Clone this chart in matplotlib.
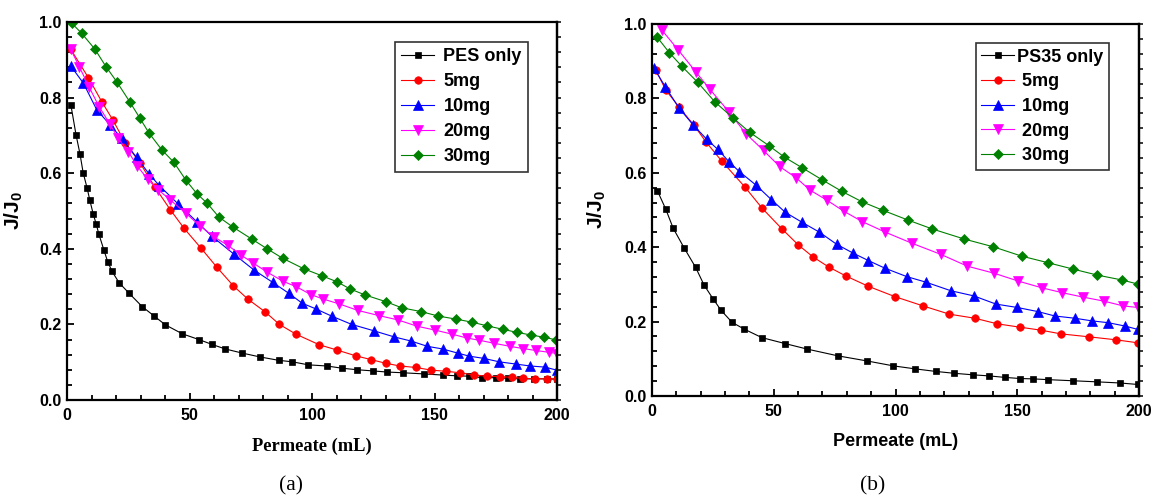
import matplotlib
matplotlib.use("Agg")
import matplotlib.pyplot as plt
from matplotlib.ticker import MultipleLocator

plt.rcParams["font.family"] = ["Liberation Sans", "DejaVu Sans"]
plt.rcParams["font.weight"] = "bold"
plt.rcParams["mathtext.fontset"] = "custom"
plt.rcParams["mathtext.rm"] = "Liberation Sans"
plt.rcParams["mathtext.bf"] = "Liberation Sans:bold"

# ---------------- Panel (a): PES ----------------
a_pes_x = [1.6, 3.7, 5.3, 6.6, 8.2, 9.3, 10.7, 11.9, 13.0, 15.0, 16.6, 18.4, 21.3, 25.4, 30.7,
           35.6, 40.1, 47.1, 53.8, 59.2, 64.6, 71.6, 78.7, 86.4, 92.0, 98.5, 106.0, 112.4,
           118.5, 124.8, 130.5, 137.3, 145.7, 153.3, 159.1, 164.1, 169.3, 175.0, 180.1,
           184.9, 190.6, 195.8, 200.0]
a_pes_y = [0.780, 0.701, 0.651, 0.601, 0.561, 0.529, 0.492, 0.466, 0.439, 0.398, 0.366, 0.340,
           0.310, 0.282, 0.247, 0.222, 0.199, 0.175, 0.160, 0.147, 0.135, 0.124, 0.114, 0.105,
           0.101, 0.093, 0.090, 0.084, 0.080, 0.077, 0.074, 0.072, 0.069, 0.066, 0.064, 0.063,
           0.059, 0.059, 0.057, 0.056, 0.056, 0.056, 0.055]

a_5_x = [1.5, 8.7, 14.2, 18.7, 23.7, 29.8, 35.9, 42.2, 47.8, 54.8, 61.2, 67.9, 73.8, 80.9,
         86.7, 93.5, 103.0, 110.3, 117.8, 124.0, 130.2, 135.9, 142.4, 148.7, 154.6, 160.4,
         166.1, 171.3, 176.7, 181.5, 186.2, 191.0, 195.8, 200.0]
a_5_y = [0.928, 0.853, 0.789, 0.741, 0.681, 0.627, 0.563, 0.503, 0.454, 0.401, 0.351, 0.302,
         0.267, 0.233, 0.200, 0.174, 0.146, 0.132, 0.117, 0.107, 0.097, 0.090, 0.086, 0.079,
         0.076, 0.072, 0.066, 0.063, 0.062, 0.060, 0.057, 0.056, 0.056, 0.056]

a_10_x = [1.5, 6.7, 12.2, 17.6, 22.3, 28.4, 33.5, 37.7, 45.3, 52.9, 59.0, 68.3, 76.3, 84.0,
          90.6, 96.0, 101.6, 108.0, 116.2, 125.3, 133.5, 140.4, 147.1, 153.3, 159.5, 164.2,
          170.2, 176.4, 183.3, 189.0, 195.1, 199.9]
a_10_y = [0.884, 0.838, 0.767, 0.728, 0.692, 0.642, 0.598, 0.567, 0.519, 0.472, 0.434, 0.385,
          0.344, 0.311, 0.282, 0.256, 0.241, 0.222, 0.200, 0.183, 0.167, 0.156, 0.142, 0.135,
          0.124, 0.116, 0.110, 0.101, 0.095, 0.090, 0.087, 0.079]

a_20_x = [1.5, 5.0, 9.1, 13.1, 17.6, 20.9, 25.0, 28.6, 32.9, 37.3, 42.2, 48.5, 54.4, 60.1,
          65.7, 70.9, 76.1, 81.5, 88.2, 93.5, 99.5, 104.6, 111.2, 118.7, 127.5, 135.0, 143.0,
          150.2, 157.3, 163.2, 168.3, 174.4, 180.8, 186.2, 191.4, 196.9, 200.0]
a_20_y = [0.928, 0.882, 0.827, 0.776, 0.729, 0.692, 0.657, 0.620, 0.584, 0.556, 0.529, 0.494,
          0.460, 0.431, 0.409, 0.384, 0.362, 0.339, 0.314, 0.300, 0.279, 0.267, 0.254, 0.237,
          0.223, 0.212, 0.195, 0.185, 0.174, 0.164, 0.158, 0.150, 0.142, 0.136, 0.131, 0.126,
          0.123]

a_30_x = [1.9, 6.0, 11.4, 16.0, 20.3, 25.7, 29.8, 33.5, 38.8, 43.6, 48.6, 53.0, 57.3, 62.0,
          67.6, 75.6, 81.7, 88.0, 96.7, 103.9, 110.1, 115.5, 121.6, 130.2, 136.6, 144.4, 151.6,
          158.8, 165.2, 171.6, 177.9, 183.6, 189.3, 194.8, 199.6]
a_30_y = [0.997, 0.970, 0.928, 0.881, 0.842, 0.788, 0.745, 0.706, 0.661, 0.629, 0.581, 0.546,
          0.520, 0.484, 0.458, 0.425, 0.400, 0.375, 0.347, 0.329, 0.313, 0.294, 0.278, 0.260,
          0.244, 0.234, 0.222, 0.214, 0.206, 0.196, 0.187, 0.179, 0.172, 0.166, 0.159]

# ---------------- Panel (b): PS35 ----------------
b_ps_x = [2.2, 5.6, 8.7, 13.2, 17.9, 21.4, 25.0, 28.4, 32.9, 37.8, 45.1, 54.6, 63.8, 76.3,
          88.5, 99.1, 108.0, 116.6, 124.2, 131.7, 138.5, 144.9, 151.1, 156.6, 162.5, 172.8,
          182.9, 192.2, 199.5]
b_ps_y = [0.552, 0.503, 0.451, 0.398, 0.346, 0.298, 0.262, 0.230, 0.198, 0.180, 0.157, 0.141,
          0.126, 0.108, 0.094, 0.081, 0.073, 0.066, 0.061, 0.057, 0.054, 0.050, 0.047, 0.046,
          0.044, 0.041, 0.038, 0.035, 0.031]

b_5_x = [1.6, 5.6, 11.2, 17.2, 22.3, 28.7, 38.0, 45.2, 53.4, 60.1, 66.1, 72.5, 79.5, 88.8,
         99.8, 111.4, 122.1, 132.6, 141.8, 151.1, 159.7, 167.9, 179.6, 190.6, 199.5]
b_5_y = [0.876, 0.823, 0.776, 0.728, 0.682, 0.631, 0.563, 0.505, 0.449, 0.406, 0.374, 0.347,
         0.323, 0.295, 0.267, 0.242, 0.220, 0.209, 0.194, 0.185, 0.177, 0.167, 0.159, 0.151,
         0.143]

b_10_x = [0.8, 5.5, 11.1, 17.0, 22.5, 27.0, 31.6, 35.9, 42.7, 49.0, 54.7, 61.6, 68.6, 75.8,
          82.6, 88.9, 95.5, 104.6, 112.5, 122.7, 132.2, 141.3, 150.0, 158.4, 165.5, 173.7,
          180.6, 187.4, 194.3, 199.5]
b_10_y = [0.881, 0.831, 0.774, 0.728, 0.690, 0.663, 0.630, 0.603, 0.567, 0.528, 0.494, 0.467,
          0.441, 0.408, 0.384, 0.364, 0.344, 0.321, 0.306, 0.283, 0.269, 0.247, 0.238, 0.227,
          0.215, 0.209, 0.202, 0.197, 0.188, 0.179]

b_20_x = [4.0, 10.8, 17.9, 23.7, 31.7, 38.6, 45.8, 52.4, 59.1, 65.0, 71.7, 78.7, 86.3, 95.6,
          106.6, 118.5, 129.5, 140.5, 150.4, 160.0, 168.3, 176.9, 185.6, 193.6, 199.5]
b_20_y = [0.984, 0.930, 0.872, 0.825, 0.763, 0.705, 0.660, 0.617, 0.587, 0.553, 0.527, 0.497,
          0.469, 0.441, 0.411, 0.381, 0.349, 0.330, 0.309, 0.291, 0.278, 0.266, 0.255, 0.242,
          0.238]

b_30_x = [2.2, 7.1, 12.3, 18.8, 25.9, 33.2, 40.1, 48.0, 54.4, 61.8, 69.9, 78.0, 86.3, 94.9,
          105.1, 115.1, 128.2, 140.2, 151.8, 162.8, 173.0, 182.9, 192.9, 199.5]
b_30_y = [0.964, 0.923, 0.886, 0.843, 0.790, 0.748, 0.709, 0.673, 0.642, 0.613, 0.581, 0.550,
          0.522, 0.499, 0.473, 0.449, 0.422, 0.401, 0.376, 0.358, 0.341, 0.325, 0.312, 0.301]

labels_a = ["PES only", "5mg", "10mg", "20mg", "30mg"]
labels_b = ["PS35 only", " 5mg", " 10mg", " 20mg", " 30mg"]
colors = ["black", "#ff0000", "#0000ff", "#ff00ff", "#008000"]
markers = ["s", "o", "^", "v", "D"]
msizes = [5, 5.4, 6.8, 6.8, 4.8]

series_a = [(a_pes_x, a_pes_y), (a_5_x, a_5_y), (a_10_x, a_10_y), (a_20_x, a_20_y), (a_30_x, a_30_y)]
series_b = [(b_ps_x, b_ps_y), (b_5_x, b_5_y), (b_10_x, b_10_y), (b_20_x, b_20_y), (b_30_x, b_30_y)]

W, H = 1156, 501
fig = plt.figure(figsize=(W / 100, H / 100), dpi=100)
axL = fig.add_axes([67 / W, 1 - 400 / H, 490 / W, 378 / H])
axR = fig.add_axes([652 / W, 1 - 396 / H, 487 / W, 372 / H])


def style(ax):
    ax.set_xlim(0, 200)
    ax.set_ylim(0, 1.0)
    ax.xaxis.set_major_locator(MultipleLocator(50))
    ax.xaxis.set_minor_locator(MultipleLocator(10))
    ax.yaxis.set_major_locator(MultipleLocator(0.2))
    ax.yaxis.set_minor_locator(MultipleLocator(0.04))
    ax.tick_params(which="both", direction="in", top=False, right=False, width=1.3,
                   labelsize=11.5, colors="black")
    ax.tick_params(which="major", length=5, pad=4)
    ax.tick_params(which="minor", length=3.5)
    ax.tick_params(axis="x", pad=6)
    for s in ax.spines.values():
        s.set_linewidth(1.6)
    tw = ax.twinx()
    tw.set_ylim(0, 1.0)
    tw.yaxis.set_major_locator(MultipleLocator(0.04))
    tw.tick_params(direction="out", length=3, width=1.1, labelright=False)
    for k, s in tw.spines.items():
        s.set_visible(k == "right")
        s.set_linewidth(1.6)


for ax, series, labels in [(axL, series_a, labels_a), (axR, series_b, labels_b)]:
    for (xs, ys), c, m, ms, lab in zip(series, colors, markers, msizes, labels):
        ax.plot(xs, ys, color=c, marker=m, markersize=ms, linewidth=0.8,
                markeredgewidth=0.5, label=lab)
    style(ax)

legL = axL.legend(loc="upper right", bbox_to_anchor=(0.941, 0.948), fontsize=13,
                  frameon=True, fancybox=False, framealpha=1, edgecolor="#333333",
                  handlelength=1.85, handletextpad=0.5, labelspacing=0.45, borderpad=0.35,
                  borderaxespad=0)
legR = axR.legend(loc="upper right", bbox_to_anchor=(0.938, 0.948), fontsize=13,
                  frameon=True, fancybox=False, framealpha=1, edgecolor="#333333",
                  handlelength=1.85, handletextpad=0.15, labelspacing=0.42, borderpad=0.3,
                  borderaxespad=0)
for leg in (legL, legR):
    leg.get_frame().set_linewidth(1.2)
    for t in leg.get_texts():
        t.set_fontweight("bold")

axL.set_ylabel(r"$\mathbf{J/J_0}$", fontsize=15)
axR.set_ylabel(r"$\mathbf{J/J_0}$", fontsize=15)
axL.yaxis.set_label_coords(-42 / 490, 0.5)
axR.yaxis.set_label_coords(-44 / 487, 0.5)

axL.set_xlabel("Permeate (mL)", fontsize=13.2, fontweight="bold",
               fontfamily="Liberation Serif")
axR.set_xlabel("Permeate (mL)", fontsize=13, fontweight="bold")
axL.xaxis.set_label_coords(0.5, (400 - 446.7) / 378)
axR.xaxis.set_label_coords(0.5, (396 - 441.7) / 372)
axL.xaxis.label.set_va("center")
axR.xaxis.label.set_va("center")

fig.text(291 / W, 1 - 486 / H, "(a)", fontsize=15.5, fontweight="normal",
         fontfamily="Liberation Serif", ha="center", va="center")
fig.text(872.5 / W, 1 - 486 / H, "(b)", fontsize=15.5, fontweight="normal",
         fontfamily="Liberation Serif", ha="center", va="center")

fig.savefig("out.png", dpi=100)
